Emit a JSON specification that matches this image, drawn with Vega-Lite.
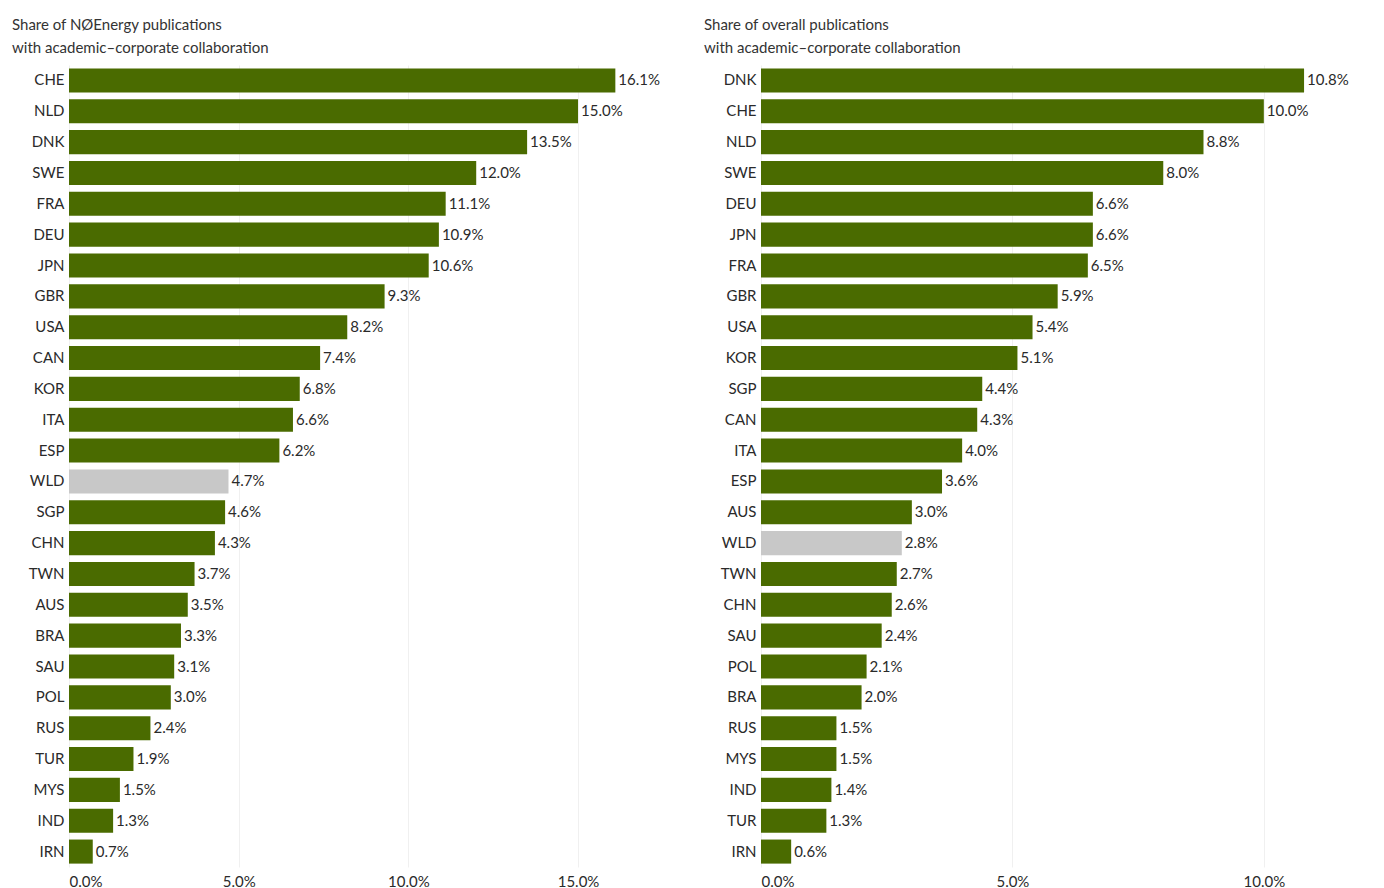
{
  "$schema": "https://vega.github.io/schema/vega-lite/v6.json",
  "padding": {"left": 12, "top": 18, "right": 2, "bottom": 0},
  "spacing": 14,
  "background": "white",
  "config": {
    "font": "Lato",
    "view": {"stroke": null},
    "axis": {"labelFont": "Lato", "labelFontSize": 15, "labelColor": "#2a2a2a", "domain": false, "ticks": false, "title": null},
    "axisY": {"labelPadding": 5, "minExtent": 57, "maxExtent": 57, "grid": false},
    "axisX": {"labelPadding": 7, "grid": true, "gridColor": "#f0f0f0", "gridWidth": 1},
    "title": {"anchor": "start", "frame": "bounds", "fontSize": 15, "fontWeight": "normal", "lineHeight": 23, "color": "#333333", "font": "Lato", "offset": 9}
  },
  "datasets": {
    "left": [
      {"country": "CHE", "share": 0.161}, {"country": "NLD", "share": 0.150}, {"country": "DNK", "share": 0.135},
      {"country": "SWE", "share": 0.120}, {"country": "FRA", "share": 0.111}, {"country": "DEU", "share": 0.109},
      {"country": "JPN", "share": 0.106}, {"country": "GBR", "share": 0.093}, {"country": "USA", "share": 0.082},
      {"country": "CAN", "share": 0.074}, {"country": "KOR", "share": 0.068}, {"country": "ITA", "share": 0.066},
      {"country": "ESP", "share": 0.062}, {"country": "WLD", "share": 0.047}, {"country": "SGP", "share": 0.046},
      {"country": "CHN", "share": 0.043}, {"country": "TWN", "share": 0.037}, {"country": "AUS", "share": 0.035},
      {"country": "BRA", "share": 0.033}, {"country": "SAU", "share": 0.031}, {"country": "POL", "share": 0.030},
      {"country": "RUS", "share": 0.024}, {"country": "TUR", "share": 0.019}, {"country": "MYS", "share": 0.015},
      {"country": "IND", "share": 0.013}, {"country": "IRN", "share": 0.007}
    ],
    "right": [
      {"country": "DNK", "share": 0.108}, {"country": "CHE", "share": 0.100}, {"country": "NLD", "share": 0.088},
      {"country": "SWE", "share": 0.080}, {"country": "DEU", "share": 0.066}, {"country": "JPN", "share": 0.066},
      {"country": "FRA", "share": 0.065}, {"country": "GBR", "share": 0.059}, {"country": "USA", "share": 0.054},
      {"country": "KOR", "share": 0.051}, {"country": "SGP", "share": 0.044}, {"country": "CAN", "share": 0.043},
      {"country": "ITA", "share": 0.040}, {"country": "ESP", "share": 0.036}, {"country": "AUS", "share": 0.030},
      {"country": "WLD", "share": 0.028}, {"country": "TWN", "share": 0.027}, {"country": "CHN", "share": 0.026},
      {"country": "SAU", "share": 0.024}, {"country": "POL", "share": 0.021}, {"country": "BRA", "share": 0.020},
      {"country": "RUS", "share": 0.015}, {"country": "MYS", "share": 0.015}, {"country": "IND", "share": 0.014},
      {"country": "TUR", "share": 0.013}, {"country": "IRN", "share": 0.006}
    ]
  },
  "hconcat": [
    {
      "data": {"name": "left"},
      "title": {"text": ["Share of NØEnergy publications", "with academic–corporate collaboration"]},
      "width": 621,
      "height": 802,
      "encoding": {
        "y": {"field": "country", "type": "nominal", "sort": null, "scale": {"paddingInner": 0.22, "paddingOuter": 0.11}},
        "x": {"field": "share", "type": "quantitative", "scale": {"domain": [0, 0.183], "nice": false}, "axis": {"format": ".1%", "values": [0, 0.05, 0.1, 0.15]}}
      },
      "layer": [
        {"mark": {"type": "bar"}, "encoding": {"color": {"condition": {"test": "datum.country === 'WLD'", "value": "#c8c8c8"}, "value": "#4a6b00"}}},
        {"mark": {"type": "text", "align": "left", "baseline": "middle", "dx": 3, "fontSize": 15, "color": "#2a2a2a"}, "encoding": {"text": {"field": "share", "type": "quantitative", "format": ".1%"}}}
      ]
    },
    {
      "data": {"name": "right"},
      "title": {"text": ["Share of overall publications", "with academic–corporate collaboration"]},
      "width": 621,
      "height": 802,
      "encoding": {
        "y": {"field": "country", "type": "nominal", "sort": null, "scale": {"paddingInner": 0.22, "paddingOuter": 0.11}},
        "x": {"field": "share", "type": "quantitative", "scale": {"domain": [0, 0.1235], "nice": false}, "axis": {"format": ".1%", "values": [0, 0.05, 0.1]}}
      },
      "layer": [
        {"mark": {"type": "bar"}, "encoding": {"color": {"condition": {"test": "datum.country === 'WLD'", "value": "#c8c8c8"}, "value": "#4a6b00"}}},
        {"mark": {"type": "text", "align": "left", "baseline": "middle", "dx": 3, "fontSize": 15, "color": "#2a2a2a"}, "encoding": {"text": {"field": "share", "type": "quantitative", "format": ".1%"}}}
      ]
    }
  ]
}
